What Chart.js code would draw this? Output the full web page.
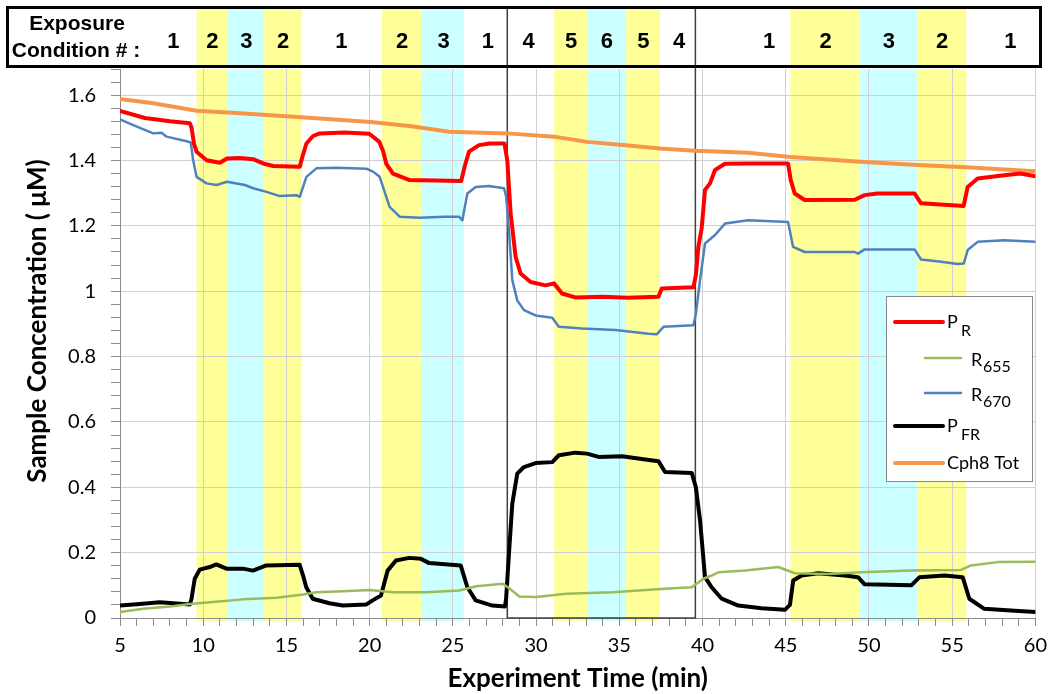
<!DOCTYPE html>
<html>
<head>
<meta charset="utf-8">
<script src="https://cdn.jsdelivr.net/npm/chart.js@4.4.1/dist/chart.umd.min.js"></script>
<style>
html, body { margin: 0; padding: 0; background: #fff; }
canvas { display: block; }
</style>
</head>
<body>
<canvas id="chart" width="1055" height="694"></canvas>
<script>
// ---- data (time in min, concentration in uM) ----
const prTime = [5, 6.5, 8, 9.2, 9.3, 9.45, 9.6, 10.2, 11, 11.43, 12.2, 13, 13.6, 14.2, 15.8, 15.95, 16.2, 16.6, 17, 18.5, 19.98, 20.58, 20.8, 21, 21.4, 22.4, 24.77, 25.5, 25.7, 25.97, 26.57, 27.2, 28.1, 28.27, 28.47, 28.77, 29.07, 29.67, 30.57, 31.07, 31.56, 32.36, 34, 35.5, 37.35, 37.55, 39.45, 39.6, 39.75, 39.95, 40.15, 40.45, 40.75, 41.35, 42.75, 45.14, 45.3, 45.54, 46.14, 49.14, 49.74, 50.5, 52.74, 53.13, 55.69, 55.93, 56.53, 58.13, 59.1, 60];
const prValues = [1.552, 1.53, 1.52, 1.514, 1.5, 1.45, 1.427, 1.401, 1.393, 1.406, 1.408, 1.404, 1.391, 1.383, 1.381, 1.41, 1.452, 1.475, 1.483, 1.486, 1.482, 1.457, 1.43, 1.39, 1.36, 1.34, 1.338, 1.337, 1.38, 1.427, 1.447, 1.452, 1.452, 1.4, 1.239, 1.105, 1.054, 1.028, 1.018, 1.024, 0.993, 0.981, 0.983, 0.98, 0.983, 1.008, 1.012, 1.05, 1.136, 1.193, 1.31, 1.33, 1.371, 1.39, 1.391, 1.391, 1.34, 1.299, 1.279, 1.28, 1.294, 1.299, 1.299, 1.269, 1.261, 1.319, 1.345, 1.355, 1.36, 1.352];

const r655Time = [5, 6.4, 8, 9.2, 10.4, 12.4, 14.4, 16, 16.8, 18.4, 20, 21.4, 23.4, 25.4, 26.4, 28, 28.4, 29, 30, 31.8, 34.6, 37.5, 39.35, 40.05, 40.55, 40.95, 42.55, 44.55, 45.54, 47.54, 49.54, 52.54, 55.53, 56.13, 57.73, 60];
const r655Values = [0.018, 0.028, 0.035, 0.043, 0.048, 0.057, 0.062, 0.072, 0.079, 0.082, 0.086, 0.079, 0.079, 0.084, 0.097, 0.105, 0.09, 0.066, 0.064, 0.074, 0.079, 0.089, 0.094, 0.12, 0.13, 0.14, 0.145, 0.156, 0.137, 0.135, 0.14, 0.145, 0.147, 0.161, 0.171, 0.172];

const r670Time = [5, 5.8, 7, 7.5, 7.8, 9, 9.25, 9.4, 9.6, 10.2, 10.8, 11.43, 12.5, 13, 13.8, 14.6, 15.6, 15.8, 16.2, 16.8, 18, 19.8, 20.2, 20.6, 21.2, 21.8, 23, 24.5, 25.37, 25.57, 25.87, 26.37, 27.17, 28.07, 28.2, 28.37, 28.57, 28.87, 29.27, 29.97, 30.97, 31.37, 32.75, 34.77, 36.76, 37.25, 37.65, 39.45, 39.6, 39.85, 40.15, 40.75, 41.35, 42.75, 45.14, 45.44, 46.14, 49.14, 49.34, 49.74, 52.74, 53.13, 54.33, 55.33, 55.7, 55.93, 56.53, 58.13, 60];
const r670Values = [1.526, 1.508, 1.483, 1.485, 1.473, 1.459, 1.455, 1.4, 1.35, 1.33, 1.325, 1.335, 1.325, 1.315, 1.304, 1.291, 1.294, 1.289, 1.35, 1.376, 1.378, 1.375, 1.366, 1.35, 1.258, 1.228, 1.225, 1.228, 1.228, 1.217, 1.299, 1.319, 1.322, 1.315, 1.29, 1.187, 1.034, 0.972, 0.942, 0.926, 0.919, 0.891, 0.886, 0.881, 0.87, 0.868, 0.891, 0.896, 0.93, 1.034, 1.146, 1.172, 1.207, 1.217, 1.212, 1.136, 1.12, 1.12, 1.115, 1.128, 1.128, 1.097, 1.09, 1.083, 1.085, 1.126, 1.151, 1.156, 1.151];

const pfrTime = [5, 6, 7.4, 9.2, 9.3, 9.49, 9.79, 10.39, 10.79, 11.39, 12.39, 12.99, 13.79, 15.79, 16, 16.19, 16.58, 17.58, 18.38, 19.78, 20.18, 20.68, 21.08, 21.58, 22.38, 23.08, 23.58, 25.47, 25.87, 26.37, 27.37, 28.13, 28.2, 28.37, 28.57, 28.87, 29.27, 29.97, 30.97, 31.37, 32.36, 33.06, 33.76, 35.16, 36.56, 37.35, 37.75, 39.35, 39.6, 39.85, 40.15, 40.55, 41.15, 42.15, 43.55, 44.95, 45.25, 45.45, 45.95, 46.95, 48.54, 49.34, 49.74, 52.54, 53.04, 54.53, 55.63, 56.03, 56.93, 58.53, 60];
const pfrValues = [0.038, 0.042, 0.048, 0.041, 0.06, 0.12, 0.148, 0.156, 0.164, 0.151, 0.151, 0.145, 0.161, 0.163, 0.13, 0.094, 0.059, 0.045, 0.038, 0.041, 0.054, 0.069, 0.145, 0.176, 0.184, 0.181, 0.168, 0.161, 0.094, 0.054, 0.038, 0.035, 0.06, 0.197, 0.35, 0.442, 0.462, 0.474, 0.477, 0.498, 0.506, 0.503, 0.493, 0.495, 0.485, 0.48, 0.447, 0.444, 0.4, 0.299, 0.125, 0.094, 0.059, 0.038, 0.03, 0.025, 0.04, 0.115, 0.13, 0.137, 0.13, 0.125, 0.103, 0.1, 0.125, 0.13, 0.125, 0.059, 0.028, 0.023, 0.018];

const totTime = [5, 7, 9.6, 12, 15.9, 20.08, 22.5, 24.77, 28.27, 31.08, 33.08, 35.4, 37.45, 39.57, 42.75, 45.28, 49.47, 52.9, 55.85, 60];
const totValues = [1.588, 1.575, 1.552, 1.545, 1.532, 1.518, 1.505, 1.488, 1.483, 1.473, 1.457, 1.447, 1.437, 1.43, 1.424, 1.411, 1.396, 1.386, 1.379, 1.367];

// exposure condition shading (start, end in min; 'y' = yellow, 'c' = cyan)
const bandStart = [9.6, 11.43, 13.63, 20.74, 23.13, 31.08, 33.08, 35.41, 45.28, 49.47, 52.9];
const bandEnd   = [11.43, 13.63, 15.92, 23.13, 25.65, 33.08, 35.41, 37.45, 49.47, 52.9, 55.85];
const bandType  = ['y', 'c', 'y', 'y', 'c', 'y', 'c', 'y', 'y', 'c', 'y'];

// condition numbers in the header strip and where they sit (min)
const conditionLabels = ['1', '2', '3', '2', '1', '2', '3', '1', '4', '5', '6', '5', '4', '1', '2', '3', '2', '1'];
const conditionPos    = [8.2, 10.55, 12.6, 14.8, 18.3, 21.95, 24.45, 27.1, 29.55, 32.1, 34.25, 36.45, 38.6, 44.0, 47.4, 51.2, 54.4, 58.5];

// boxed section of the run (min)
const boxStart = 28.27;
const boxEnd = 39.57;

const xTickValues = [];
for (let t = 5; t <= 60; t++) xTickValues.push(t);
const yTickValues = [];
for (let i = 0; i <= 42; i++) yTickValues.push(Math.round(i * 4) / 100);

const toPoints = (ts, vs) => ts.map((t, i) => ({ x: t, y: vs[i] }));
const isMult = (v, step) => Math.abs(v / step - Math.round(v / step)) < 1e-6;

const bandColors = { y: '#FFFF99', c: '#CCFFFF' };

const exposurePlugin = {
    id: 'exposure',
    beforeDraw(chart) {
        const { ctx, chartArea, scales: { x } } = chart;
        ctx.save();
        bandStart.forEach((s, i) => {
            const x0 = x.getPixelForValue(s);
            const x1 = x.getPixelForValue(bandEnd[i]);
            ctx.fillStyle = bandColors[bandType[i]];
            ctx.fillRect(x0, chartArea.top, x1 - x0, chartArea.bottom + 3 - chartArea.top);
            ctx.fillRect(x0, 9, x1 - x0, 57);
        });
        ctx.restore();
    },
    beforeDatasetsDraw(chart) {
        const { ctx, chartArea, scales: { x } } = chart;
        const x0 = x.getPixelForValue(boxStart);
        const x1 = x.getPixelForValue(boxEnd);
        ctx.save();
        ctx.strokeStyle = '#404040';
        ctx.lineWidth = 1.5;
        ctx.beginPath();
        ctx.moveTo(x0, 7);
        ctx.lineTo(x0, chartArea.bottom);
        ctx.lineTo(x1, chartArea.bottom);
        ctx.lineTo(x1, 7);
        ctx.stroke();
        ctx.restore();
    },
    afterDraw(chart) {
        const { ctx, scales: { x } } = chart;
        ctx.save();
        // header strip
        ctx.strokeStyle = '#000';
        ctx.lineWidth = 3;
        ctx.strokeRect(7.5, 7.5, 1033, 59);
        ctx.fillStyle = '#000';
        ctx.textAlign = 'center';
        ctx.textBaseline = 'alphabetic';
        ctx.font = 'bold 21px "Liberation Sans", Arial, sans-serif';
        ctx.fillText('Exposure', 77, 30);
        ctx.fillText('Condition # :', 76, 57);
        ctx.font = 'bold 22px "Liberation Sans", Arial, sans-serif';
        conditionLabels.forEach((lab, i) => {
            ctx.fillText(lab, x.getPixelForValue(conditionPos[i]), 48);
        });

        // y axis title
        ctx.save();
        ctx.translate(38, 321);
        ctx.rotate(-Math.PI / 2);
        ctx.font = 'bold 26px Lato, sans-serif';
        ctx.textBaseline = 'middle';
        ctx.fillText('Sample Concentration ( \u03bcM)', 0, 0);
        ctx.restore();

        // legend
        ctx.fillStyle = '#fff';
        ctx.fillRect(886.5, 296.5, 146, 185);
        ctx.strokeStyle = '#888';
        ctx.lineWidth = 1;
        ctx.strokeRect(886.5, 296.5, 146, 185);
        const items = [
            { main: 'P', sub: 'R', color: '#FF0000', w: 4, lx: [895, 943], ly: 322, tx: 947, ty: 328, sx: 961, sy: 336 },
            { main: 'R', sub: '655', color: '#9BBB59', w: 2.5, lx: [925, 961], ly: 358, tx: 971, ty: 366, sx: 983, sy: 372 },
            { main: 'R', sub: '670', color: '#4F81BD', w: 2.5, lx: [925, 961], ly: 393, tx: 971, ty: 401, sx: 983, sy: 407 },
            { main: 'P', sub: 'FR', color: '#000000', w: 4, lx: [895, 943], ly: 426, tx: 947, ty: 432, sx: 961, sy: 440 },
            { main: 'Cph8 Tot', sub: '', color: '#F79646', w: 4, lx: [895, 943], ly: 463, tx: 947, ty: 469, sx: 0, sy: 0 }
        ];
        ctx.textAlign = 'left';
        items.forEach(it => {
            ctx.strokeStyle = it.color;
            ctx.lineWidth = it.w;
            ctx.lineCap = 'round';
            ctx.beginPath();
            ctx.moveTo(it.lx[0], it.ly);
            ctx.lineTo(it.lx[1], it.ly);
            ctx.stroke();
            ctx.fillStyle = '#000';
            ctx.font = '18px Lato, sans-serif';
            ctx.fillText(it.main, it.tx, it.ty);
            if (it.sub) {
                ctx.font = '16px Lato, sans-serif';
                ctx.fillText(it.sub, it.sx, it.sy);
            }
        });
        ctx.restore();
    }
};

const lineSet = (label, ts, vs, color, width) => ({
    label: label,
    data: toPoints(ts, vs),
    borderColor: color,
    backgroundColor: color,
    borderWidth: width,
    pointRadius: 0,
    tension: 0,
    borderJoinStyle: 'round',
    borderCapStyle: 'round',
    fill: false
});

const ctx = document.getElementById('chart').getContext('2d');
new Chart(ctx, {
    type: 'line',
    data: {
        datasets: [
            lineSet('PR', prTime, prValues, '#FF0000', 4),
            lineSet('R655', r655Time, r655Values, '#9BBB59', 2.5),
            lineSet('R670', r670Time, r670Values, '#4F81BD', 2.5),
            lineSet('PFR', pfrTime, pfrValues, '#000000', 4),
            lineSet('Cph8 Tot', totTime, totValues, '#F79646', 4)
        ]
    },
    options: {
        responsive: false,
        animation: false,
        layout: { padding: { top: 69, right: 17, left: 0, bottom: 0 } },
        plugins: {
            legend: { display: false },
            tooltip: { enabled: false }
        },
        scales: {
            x: {
                type: 'linear',
                min: 5,
                max: 60,
                afterBuildTicks: s => { s.ticks = xTickValues.map(v => ({ value: v })); },
                afterFit: s => { s.height = 76; },
                ticks: {
                    autoSkip: false,
                    maxRotation: 0,
                    padding: 8,
                    color: '#000',
                    font: { family: 'Lato', size: 20 },
                    callback: v => (isMult(v, 5) ? String(v) : '')
                },
                grid: {
                    color: c => (c.tick && isMult(c.tick.value, 5) && c.tick.value > 5 ? '#D0D0D0' : 'rgba(0,0,0,0)'),
                    tickColor: '#8C8C8C',
                    tickLength: 8,
                    lineWidth: 1
                },
                border: { color: '#8C8C8C', width: 1 },
                title: {
                    display: true,
                    text: 'Experiment Time (min)',
                    color: '#000',
                    font: { family: 'Lato', size: 26, weight: 'bold' },
                    padding: { top: 0, bottom: 0 }
                }
            },
            y: {
                type: 'linear',
                min: 0,
                max: 1.68,
                afterBuildTicks: s => { s.ticks = yTickValues.map(v => ({ value: v })); },
                afterFit: s => { s.width = 120; },
                ticks: {
                    autoSkip: false,
                    padding: 15,
                    color: '#000',
                    font: { family: 'Lato', size: 20 },
                    callback: v => (isMult(v, 0.2) ? String(Math.round(v * 10) / 10) : '')
                },
                grid: {
                    color: c => (c.tick && isMult(c.tick.value, 0.2) && c.tick.value > 0 ? '#D0D0D0' : 'rgba(0,0,0,0)'),
                    tickColor: '#8C8C8C',
                    tickLength: 9,
                    lineWidth: 1
                },
                border: { color: '#8C8C8C', width: 1 }
            }
        }
    },
    plugins: [exposurePlugin]
});
</script>
</body>
</html>
